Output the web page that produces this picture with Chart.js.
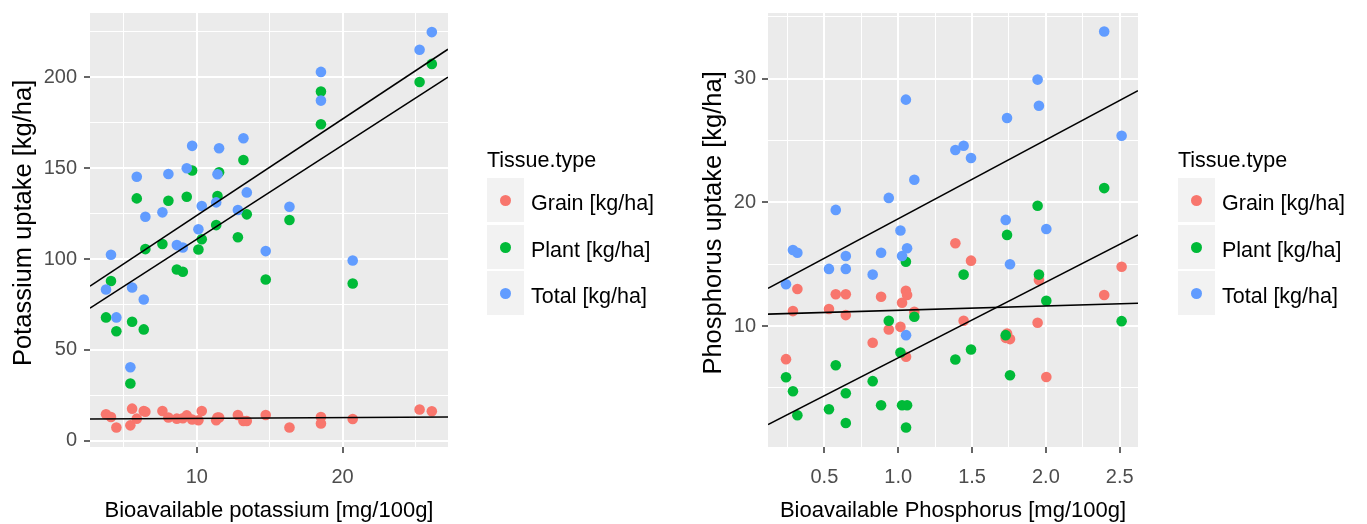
<!DOCTYPE html>
<html>
<head>
<meta charset="utf-8">
<script src="https://cdn.jsdelivr.net/npm/chart.js@4/dist/chart.umd.min.js"></script>
<style>
  body { margin: 0; background: #fff; font-family: "Liberation Sans", Arial, sans-serif; }
  #wrap { position: relative; width: 1367px; height: 524px; overflow: hidden; }
  canvas { position: absolute; top: 0; }
  .lg-title { position: absolute; font-size: 21.5px; line-height: 21.5px; color: #000; white-space: nowrap; }
  .lg-key { position: absolute; width: 37px; height: 44px; background: #F2F2F2; }
  .lg-dot { position: absolute; left: 13px; top: 17px; width: 11px; height: 11px; border-radius: 50%; }
  .lg-label { position: absolute; font-size: 21.5px; height: 44px; line-height: 44px; color: #000; white-space: nowrap; }
</style>
</head>
<body>
<div id="wrap">
  <canvas id="potassium" width="683" height="524" style="left:0;width:683px;height:524px"></canvas>
  <canvas id="phosphorus" width="684" height="524" style="left:683px;width:684px;height:524px"></canvas>
</div>
<script>
// tissue groups
const tissueTypes = ["Grain [kg/ha]", "Plant [kg/ha]", "Total [kg/ha]"];
const tissueColors = ["#F8766D", "#00BA38", "#619CFF"];

// potassium panel (x = bioavailable K, mg/100g)
const bioK = [3.77, 4.11, 4.48, 5.44, 5.56, 5.88, 6.36, 6.47, 7.64, 8.05, 8.63, 9.04, 9.31, 9.68, 10.11,
  10.34, 11.33, 11.42, 11.53, 12.82, 13.2, 13.43, 14.73, 16.36, 18.52, 18.52, 20.7, 25.29, 26.13];
const grainK = [14.6, 13.1, 7.3, 8.5, 17.7, 12.2, 16.4, 16.0, 16.4, 12.8, 12.2, 12.4, 14.0, 11.7, 11.3,
  16.4, 11.3, 12.8, 12.8, 14.2, 10.9, 10.9, 14.2, 7.3, 9.5, 13.1, 12.0, 17.2, 16.3];
const plantK = [67.9, 87.9, 60.3, 31.5, 65.5, 133.4, 61.3, 105.5, 108.3, 132.1, 94.3, 93.0, 134.3, 148.7, 105.3,
  110.9, 118.7, 134.7, 147.8, 112.0, 154.5, 124.6, 88.8, 121.5, 192.2, 174.2, 86.6, 197.4, 207.4];
const totalK = [83.3, 102.4, 67.9, 40.5, 84.4, 145.3, 77.8, 123.3, 125.7, 146.8, 107.7, 106.4, 150.0, 162.3, 116.4,
  129.2, 131.2, 146.7, 161.0, 127.0, 166.5, 136.7, 104.4, 128.8, 203.0, 187.2, 99.2, 215.2, 224.9];
// fitted lines, value at the left and right edge of the panel
const fitXK = [2.67, 27.24];
const fitGrainK = [12.0, 13.1];
const fitPlantK = [73.0, 200.1];
const fitTotalK = [85.1, 215.5];
const rangeYK = [-3.4, 235.4];
const majorXK = [10, 20];
const minorXK = [5, 15, 25];
const majorYK = [0, 50, 100, 150, 200];
const minorYK = [25, 75, 125, 175, 225];

// phosphorus panel (x = bioavailable P, mg/100g)
const bioP = [0.240, 0.287, 0.317, 0.531, 0.577, 0.645, 0.645, 0.827, 0.884, 0.936, 1.015, 1.026, 1.052, 1.053,
  1.060, 1.109, 1.387, 1.443, 1.493, 1.728, 1.737, 1.757, 1.944, 1.953, 2.003, 2.395, 2.513];
const grainP = [7.33, 11.21, 13.0, 11.38, 12.57, 10.89, 12.57, 8.65, 12.37, 9.73, 9.94, 11.89, 12.86, 7.52,
  12.51, 11.16, 16.70, 10.43, 15.29, 9.05, 9.4, 8.95, 10.27, 13.72, 5.89, 12.51, 14.80];
const plantP = [5.87, 4.74, 2.79, 3.28, 6.84, 4.57, 2.17, 5.55, 3.60, 10.43, 7.87, 3.60, 15.2, 1.80,
  3.60, 10.75, 7.30, 14.16, 8.11, 9.27, 17.37, 6.03, 19.72, 14.16, 12.05, 21.15, 10.40];
const totalP = [13.38, 16.15, 15.93, 14.62, 19.39, 15.67, 14.62, 14.16, 15.93, 20.36, 17.72, 15.67, 28.3, 9.27,
  16.29, 21.82, 24.23, 24.57, 23.58, 18.58, 26.82, 15.0, 29.92, 27.81, 17.85, 33.81, 25.38];
const fitXP = [0.118, 2.624];
const fitGrainP = [10.97, 11.84];
const fitPlantP = [2.04, 17.37];
const fitTotalP = [13.05, 29.03];
const rangeYP = [0.23, 35.3];
const majorXP = [0.5, 1.0, 1.5, 2.0, 2.5];
const minorXP = [0.25, 0.75, 1.25, 1.75, 2.25];
const majorYP = [10, 20, 30];
const minorYP = [5, 15, 25, 35];

const panelBg = {
  id: "panelBg",
  beforeDraw(chart) {
    const { ctx, chartArea: a } = chart;
    ctx.save();
    ctx.fillStyle = "#EBEBEB";
    ctx.fillRect(a.left, a.top, a.width, a.height);
    ctx.restore();
  }
};

const toPoints = (xs, ys) => xs.map((x, i) => ({ x: x, y: ys[i] }));

function axis(opts) {
  const all = opts.major.concat(opts.minor).sort((a, b) => a - b);
  const isMajor = (ctx) => ctx.tick && opts.major.includes(ctx.tick.value);
  return {
    type: "linear",
    min: opts.min,
    max: opts.max,
    afterBuildTicks: (scale) => { scale.ticks = all.map((v) => ({ value: v })); },
    afterFit: (scale) => {
      if (opts.width) scale.width = opts.width;
      if (opts.height) scale.height = opts.height;
      // keep the plot panel exactly where the layout padding puts it
      scale.paddingTop = 0;
      scale.paddingBottom = 0;
      scale.paddingLeft = 0;
      scale.paddingRight = 0;
    },
    border: { display: false },
    grid: {
      color: "#FFFFFF",
      lineWidth: (ctx) => (isMajor(ctx) ? 2 : 1),
      tickColor: (ctx) => (isMajor(ctx) ? "#333333" : "rgba(0,0,0,0)"),
      tickLength: 6,
      tickWidth: 1.5
    },
    ticks: {
      autoSkip: false,
      maxRotation: 0,
      padding: opts.tickPad,
      color: "#4D4D4D",
      font: { family: "'Liberation Sans', Arial, sans-serif", size: 20, lineHeight: 1.2 },
      callback: (v) => (opts.major.includes(v) ? opts.fmt(v) : "")
    },
    title: {
      display: true,
      text: opts.title,
      color: "#000000",
      font: { family: "'Liberation Sans', Arial, sans-serif", size: opts.titleSize, lineHeight: 1 },
      padding: opts.titlePad
    }
  };
}

function makePanel(id, d) {
  const lineSet = (ys) => ({
    data: toPoints(d.fitX, ys),
    showLine: true,
    borderColor: "#000000",
    borderWidth: 1.6,
    pointRadius: 0
  });
  const pointSet = (ys, i) => ({
    label: tissueTypes[i],
    data: toPoints(d.x, ys),
    backgroundColor: tissueColors[i],
    borderWidth: 0,
    pointRadius: 5.3,
    pointHoverRadius: 5.3
  });
  new Chart(document.getElementById(id), {
    type: "scatter",
    data: {
      datasets: [
        lineSet(d.fitGrain), lineSet(d.fitPlant), lineSet(d.fitTotal),
        pointSet(d.total, 2), pointSet(d.plant, 1), pointSet(d.grain, 0)
      ]
    },
    options: {
      responsive: false,
      devicePixelRatio: 1,
      animation: false,
      events: [],
      layout: { padding: { left: 0, top: 13, right: d.padRight, bottom: 0 } },
      plugins: { legend: { display: false }, tooltip: { enabled: false } },
      scales: { x: d.xAxis, y: d.yAxis }
    },
    plugins: [panelBg]
  });
}

makePanel("potassium", {
  x: bioK, grain: grainK, plant: plantK, total: totalK,
  fitX: fitXK, fitGrain: fitGrainK, fitPlant: fitPlantK, fitTotal: fitTotalK,
  padRight: 235,
  xAxis: axis({ min: fitXK[0], max: fitXK[1], major: majorXK, minor: minorXK, height: 77, tickPad: 12,
    fmt: (v) => String(v), title: "Bioavailable potassium [mg/100g]", titleSize: 22, titlePad: { top: 0, bottom: 2 } }),
  yAxis: axis({ min: rangeYK[0], max: rangeYK[1], major: majorYK, minor: minorYK, width: 90, tickPad: 7,
    fmt: (v) => String(v), title: "  Potassium uptake [kg/ha]", titleSize: 25.5, titlePad: { top: 11, bottom: 0 } })
});

makePanel("phosphorus", {
  x: bioP, grain: grainP, plant: plantP, total: totalP,
  fitX: fitXP, fitGrain: fitGrainP, fitPlant: fitPlantP, fitTotal: fitTotalP,
  padRight: 229,
  xAxis: axis({ min: fitXP[0], max: fitXP[1], major: majorXP, minor: minorXP, height: 77, tickPad: 12,
    fmt: (v) => v.toFixed(1), title: "Bioavailable Phosphorus [mg/100g]", titleSize: 22, titlePad: { top: 0, bottom: 2 } }),
  yAxis: axis({ min: rangeYP[0], max: rangeYP[1], major: majorYP, minor: minorYP, width: 85, tickPad: 6,
    fmt: (v) => String(v), title: "  Phosphorus uptake [kg/ha]", titleSize: 25.5, titlePad: { top: 18, bottom: 0 } })
});

// ggplot-style legends
function addLegend(left) {
  const wrap = document.getElementById("wrap");
  const title = document.createElement("div");
  title.className = "lg-title";
  title.style.left = left + "px";
  title.style.top = "150px";
  title.textContent = "Tissue.type";
  wrap.appendChild(title);
  const rowTops = [178, 225, 271];
  tissueTypes.forEach((name, i) => {
    const key = document.createElement("div");
    key.className = "lg-key";
    key.style.left = left + "px";
    key.style.top = rowTops[i] + "px";
    const dot = document.createElement("div");
    dot.className = "lg-dot";
    dot.style.background = tissueColors[i];
    key.appendChild(dot);
    wrap.appendChild(key);
    const label = document.createElement("div");
    label.className = "lg-label";
    label.style.left = (left + 44) + "px";
    label.style.top = (rowTops[i] + 3) + "px";
    label.textContent = name;
    wrap.appendChild(label);
  });
}
addLegend(487);
addLegend(1178);
</script>
</body>
</html>
